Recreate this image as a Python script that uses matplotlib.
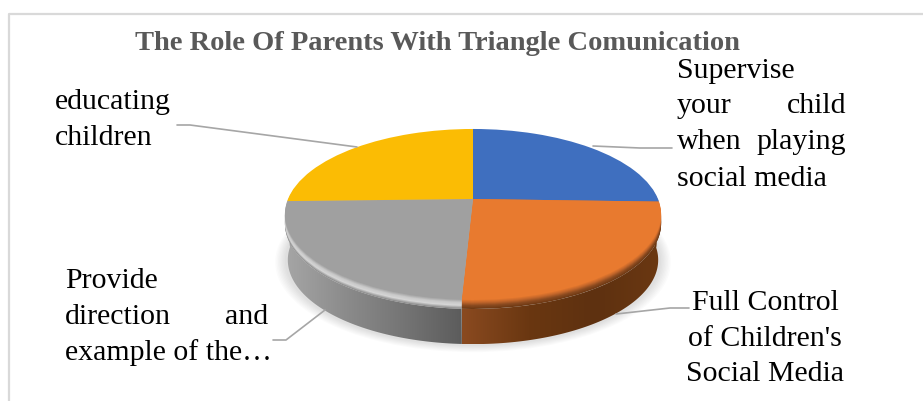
import matplotlib
matplotlib.use("Agg")
import matplotlib.pyplot as plt
import numpy as np
from matplotlib.colors import LinearSegmentedColormap, to_rgb
from matplotlib.patches import Circle, Polygon
from matplotlib.transforms import Affine2D, Transform

title = "The Role Of Parents With Triangle Comunication"
categories = [
    "Supervise your child when playing social media",
    "Full Control of Children's Social Media",
    "Provide direction and example of the…",
    "educating children",
]
values = [25.5, 25.3, 23.8, 25.4]
face_colors = ["#3F6FBF", "#E87A2F", "#A0A0A0", "#FBBC04"]
# rim goes from the flat face into the wall; back slices only peek out at the sides
rim_orange = ["#E87A2F", "#C0652A", "#8A4A20", "#6F3A14"]
rim_gray = ["#A0A0A0", "#C8C8C8", "#D6D6D6", "#8E8E8E"]
rim_stops = [rim_orange, rim_orange, rim_gray, rim_gray]
wall_orange = ["#8A4A20", "#6A3711", "#5E3110", "#6B3812"]
wall_gray = ["#A6A6A6", "#8C8C8C", "#757575", "#5C5C5C"]
wall_stops = [wall_orange, wall_orange, wall_gray, wall_gray]

font = ["Liberation Serif", "DejaVu Serif"]
text_size = 21.5
line_color = "#A6A6A6"

# text placed word by word since the source labels are justified
left_words = [
    ("educating", 55, 109), ("children", 55, 145),
    ("Provide", 65, 288), ("direction", 65, 324), ("example of the…", 65, 360),
    ("Supervise", 677, 78), ("your", 677, 113), ("when", 677, 149), ("social media", 677, 186),
]
right_words = [("and", 268, 324), ("child", 846, 113), ("playing", 846, 149)]
centre_words = [("Full Control", 765, 310), ("of Children's", 765, 346), ("Social Media", 765, 381)]
leaders = [
    ([177, 190, 357], [126, 126, 148]),
    ([593, 640, 672], [147, 149, 149]),
    ([273, 286, 325], [341, 341, 311]),
    ([616, 670, 689], [315, 309, 309]),
]

CX, CY = 473, 200
RX, RY, TILT = 185, 82.7, 0.181
RIM = 9
DEPTH = 46


class TiltedDisc(Transform):
    """Unit circle seen in perspective, into pixel-like data coords."""
    input_dims = 2
    output_dims = 2
    has_inverse = False

    def transform_non_affine(self, xy):
        xy = np.asarray(xy, dtype=float)
        w = 1 + TILT * xy[:, 1]
        return np.column_stack((CX + RX * xy[:, 0] / w, CY - RY * xy[:, 1] / w))


fig = plt.figure(figsize=(9.23, 4.02), dpi=100, facecolor="white")
ax = fig.add_axes([0, 0, 1, 1])
disc = TiltedDisc()


def draw_disc(cols, dy):
    wedges, _ = ax.pie(values, startangle=90, counterclock=False, colors=cols,
                       wedgeprops={"linewidth": 0})
    for w in wedges:
        w.set_transform(disc + Affine2D().translate(0, dy) + ax.transData)


# soft shadow
for r in np.linspace(1.05, 1.0, 8):
    ax.add_patch(Circle((0, 0), r, fc="black", ec="none", alpha=0.016, zorder=-2,
                        transform=disc + Affine2D().translate(0, DEPTH) + ax.transData))

# side wall
edges = 90 - 360 * np.concatenate(([0], np.cumsum(values))) / sum(values)
for i in range(len(values)):
    th = np.radians(np.linspace(edges[i], edges[i + 1], 80))
    unit = np.column_stack((np.cos(th), np.sin(th)))
    top = disc.transform_non_affine(unit) + [0, RIM]
    bot = disc.transform_non_affine(unit * 0.985) + [0, DEPTH]
    outline = np.vstack((top, bot[::-1]))
    x0, x1 = outline[:, 0].min(), outline[:, 0].max()
    y0, y1 = outline[:, 1].min(), outline[:, 1].max()
    cmap = LinearSegmentedColormap.from_list("wall", wall_stops[i])
    im = ax.imshow(np.linspace(0, 1, 256)[None, :], cmap=cmap, aspect="auto",
                   extent=(x0, x1, y1, y0), zorder=-1)
    im.set_clip_path(Polygon(outline, transform=ax.transData))

# bevel, bottom copy first
for d in range(RIM, 0, -1):
    t = d / RIM
    cols = []
    for stops in rim_stops:
        cm = LinearSegmentedColormap.from_list("rim", [to_rgb(c) for c in stops])
        cols.append(cm(t))
    draw_disc(cols, d)

draw_disc(face_colors, 0)

for xs, ys in leaders:
    ax.plot(xs, ys, color=line_color, lw=1.2, solid_capstyle="round", zorder=3)

ax.set_aspect("auto")
ax.set_xlim(0, 923)
ax.set_ylim(402, 0)
ax.axis("off")

# chart frame, only left and top fall inside the crop
ax.plot([9, 9, 923], [402, 15, 15], color="#D9D9D9", lw=1.6, zorder=3)

ax.text(437.5, 50, title, family=font, fontsize=20.5, fontweight="bold", color="#595959",
        ha="center", va="baseline")
for word, x, y in left_words:
    ax.text(x, y, word, family=font, fontsize=text_size, color="black", ha="left", va="baseline")
for word, x, y in right_words:
    ax.text(x, y, word, family=font, fontsize=text_size, color="black", ha="right", va="baseline")
for word, x, y in centre_words:
    ax.text(x, y, word, family=font, fontsize=text_size, color="black", ha="center", va="baseline")

fig.savefig("out.png", dpi=100)
print("Wrote out.png")
